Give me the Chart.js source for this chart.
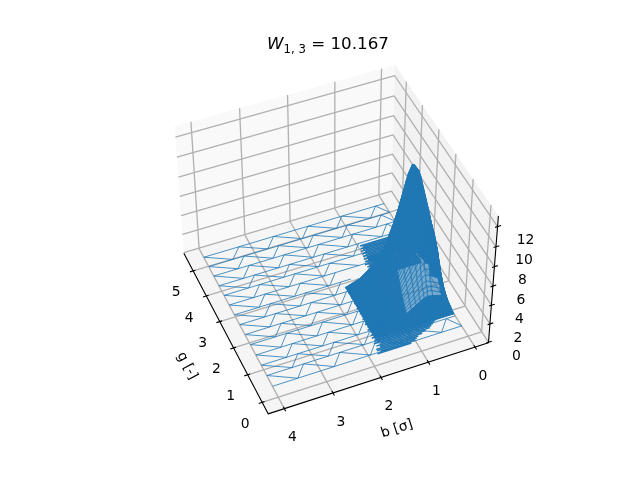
<!DOCTYPE html>
<html>
<head>
<meta charset="utf-8">
<style>body{margin:0;background:#fff}canvas{display:block}</style>
<script src="https://cdn.jsdelivr.net/npm/chart.js@4/dist/chart.umd.js"></script>
</head>
<body>
<canvas id="c" width="640" height="480"></canvas>
<script>
const gTicks = [0, 1, 2, 3, 4, 5];
const bTicks = [0, 1, 2, 3, 4];
const zTicks = [0, 2, 4, 6, 8, 10, 12];
const gLim = [-0.41, 5.72];
const bLim = [-0.29, 4.33];
const zLim = [-0.05, 13.05];

// coarse part of the mesh: straight rows plus saw teeth between rows
const rowG = [5.35, 4.97, 4.59, 4.2, 3.82, 3.44, 3.06, 2.68, 2.3, 1.92, 1.53, 1.15, 0.77, 0.38];
const rowEndB = [0, 0, 0, 0, 0.9, 1, 1.5, 1.5, 1.5, 1.5, 1.5, 1.5, 0, 0];
const toothUpperB = [4, 3.24, 2.48, 1.72, 0.96, 0.2];
const toothLowerB = [3.48, 2.72, 1.96, 1.2, 0.44, 0];

// dense part of the mesh, flat rows
const denseG = [0.35, 0.4, 0.45, 0.5, 0.55, 0.6, 0.65, 0.7, 0.75, 0.8, 0.85, 0.9, 0.95, 1, 1.05, 1.1, 1.15, 1.2, 1.25, 1.3, 1.35, 1.4, 1.45,
  1.5, 1.55, 1.6, 1.65, 1.7, 1.75, 1.8, 1.85, 1.9, 1.95, 2, 2.05, 2.1, 2.15, 2.2, 2.25, 2.3, 2.35, 2.4, 2.45,
  2.5, 2.55, 2.6, 2.65, 2.7, 2.75, 2.8, 2.85, 2.9, 2.95, 3, 3.05, 3.1, 3.15, 3.2, 3.25, 3.3, 3.35, 3.4, 3.45,
  3.5, 3.55, 3.6, 3.65, 3.7, 3.75, 3.8, 3.85, 3.9, 3.95, 4, 4.05, 4.1];
const denseFromB = [1.1, 1, 0.95, 0.9, 0.8, 0.7, 0.6, 0.55, 0.5, 0.45, 0.4, 0.4, 0.4, 1, 1, 1, 1, 1, 1, 1, 1, 1, 1,
  1, 1, 1, 1, 1, 1, 1, 1, 1, 1, 1, 1, 1, 1, 1, 1, 1, 1, 1, 1,
  1, 1, 1, 1, 1, 1, 1, 1, 0, 0, 0, 0, 0, 0, 0, 0, 0, 0, 0, 0,
  0, 0, 0, 0, 0, 0, 0, 0, 0, 0, 0, 0, 0];
const denseToB = [1.82, 1.74, 1.8, 1.8, 1.7, 1.76, 1.66, 1.78, 1.7, 1.74, 1.64, 1.76, 1.68, 1.75, 1.66, 1.72, 1.64, 1.75, 1.67, 1.72, 1.62, 1.74, 1.66,
  1.71, 1.62, 1.73, 1.65, 1.7, 1.6, 1.72, 1.64, 1.7, 1.6, 1.72, 1.63, 1.69, 1.6, 1.71, 1.62, 1.68, 1.6, 1.7, 1.62,
  1.67, 1.58, 1.7, 1.6, 1.68, 1.6, 1.7, 1.62, 1.1, 1.02, 1.08, 1, 1.1, 1.02, 1.08, 1, 1.06, 1, 1.08, 1,
  1.05, 0.97, 1.04, 0.96, 1.02, 0.95, 1, 0.93, 1, 0.94, 0.98, 0.92, 0.96];
const denseColB = [0, 0.1, 0.2, 0.3, 0.4, 0.5, 0.6, 0.7, 0.8, 0.9, 1, 1.1, 1.2, 1.3, 1.4, 1.5, 1.6, 1.7];

// the bump
const bumpB = [0, 0.05, 0.11, 0.2, 0.4, 0.5, 0.58, 0.66, 0.75, 0.85, 0.95, 1.2, 1.4, 1.7];
const bumpG = [0.85, 0.92, 1, 1.05, 1.1, 1.15, 1.2, 1.25, 1.3, 1.35, 1.4, 1.45, 1.5, 1.55, 1.6, 1.65, 1.7, 1.75, 1.8, 1.85, 1.9,
  2, 2.1, 2.2, 2.3, 2.4, 2.6, 2.8, 3, 3.2, 3.4, 3.6];
const bumpZ = [
  [0, 0, 0, 0, 0, 0, 0, 0, 0, 0, 0, 0, 0, 0],
  [0, 0.2, 0.4, 0.6, 0.7, 0.7, 0.7, 0.6, 0.5, 0.4, 0.3, 0.1, 0, 0],
  [0.1, 0.4, 0.8, 1.1, 1.4, 1.4, 1.3, 1.2, 1, 0.8, 0.6, 0.3, 0.1, 0],
  [0.2, 0.5, 0.9, 1.3, 1.6, 1.7, 1.6, 1.4, 1.2, 0.9, 0.7, 0.4, 0.2, 0],
  [0.2, 0.6, 1.1, 1.6, 1.9, 2, 1.9, 1.7, 1.4, 1.1, 0.8, 0.4, 0.2, 0],
  [0.2, 0.7, 1.3, 1.8, 2.3, 2.4, 2.2, 1.9, 1.6, 1.3, 1, 0.5, 0.2, 0],
  [0.3, 0.8, 1.5, 2.1, 2.6, 2.8, 2.6, 2.3, 1.9, 1.5, 1.1, 0.6, 0.2, 0],
  [0.3, 1, 1.7, 2.5, 3, 3.2, 3, 2.6, 2.2, 1.7, 1.3, 0.7, 0.3, 0],
  [0.4, 1.1, 2, 2.9, 3.5, 3.7, 3.5, 3, 2.5, 2, 1.5, 0.8, 0.3, 0],
  [0.4, 1.3, 2.3, 3.2, 4, 4.2, 3.9, 3.4, 2.8, 2.3, 1.7, 0.9, 0.4, 0],
  [0.5, 1.4, 2.6, 3.7, 4.5, 4.7, 4.4, 3.9, 3.2, 2.5, 1.9, 1, 0.4, 0],
  [0.5, 1.6, 2.9, 4.1, 5, 5.3, 5, 4.3, 3.6, 2.9, 2.2, 1.1, 0.5, 0],
  [0.6, 1.8, 3.2, 4.6, 5.6, 5.9, 5.5, 4.8, 4, 3.2, 2.4, 1.3, 0.5, 0],
  [0.6, 2, 3.6, 5.1, 6.2, 6.5, 6.1, 5.3, 4.4, 3.5, 2.7, 1.4, 0.6, 0.1],
  [0.7, 2.2, 3.9, 5.6, 6.8, 7.1, 6.7, 5.9, 4.9, 3.9, 2.9, 1.5, 0.6, 0.1],
  [0.8, 2.4, 4.3, 6.1, 7.4, 7.8, 7.3, 6.4, 5.3, 4.2, 3.2, 1.7, 0.7, 0.1],
  [0.8, 2.5, 4.6, 6.5, 8, 8.4, 7.9, 6.9, 5.7, 4.5, 3.4, 1.8, 0.8, 0.1],
  [0.9, 2.6, 4.8, 6.7, 8.5, 9, 8.5, 7.4, 6.1, 4.9, 3.7, 1.9, 0.8, 0.1],
  [0.9, 2.6, 4.6, 6.8, 9, 9.6, 9.1, 7.9, 6.5, 5.2, 3.9, 2, 0.9, 0.1],
  [1, 2.8, 4.8, 7, 9.6, 10.2, 9.6, 8.3, 6.9, 5.5, 4.2, 2.2, 0.9, 0.1],
  [1.1, 2.8, 4.9, 7.2, 10.1, 10.8, 10.1, 8.8, 7.3, 5.8, 4.4, 2.3, 1, 0.1],
  [1.1, 2.9, 5.2, 7.6, 11, 11.8, 11, 9.4, 7.8, 6.2, 4.7, 2.4, 1, 0.1],
  [1.2, 3, 5.4, 8, 11.7, 12.4, 11.6, 9.9, 8.2, 6.5, 4.9, 2.6, 1.1, 0.1],
  [1.2, 3.1, 5.5, 8.1, 11.9, 12.6, 11.8, 10, 8.3, 6.6, 5, 2.6, 1.1, 0.1],
  [1.2, 3, 5.4, 8, 11.7, 12.4, 11.6, 9.9, 8.2, 6.5, 4.9, 2.6, 1.1, 0.1],
  [1.1, 2.9, 5.1, 7.4, 10.6, 11.3, 10.7, 9.3, 7.7, 6.1, 4.7, 2.4, 1, 0.1],
  [0.9, 2.7, 5, 7, 8.6, 9, 8.5, 7.4, 6.1, 4.9, 3.7, 1.9, 0.8, 0.1],
  [0.6, 1.9, 3.4, 4.8, 5.8, 6.1, 5.8, 5, 4.2, 3.3, 2.5, 1.3, 0.6, 0.1],
  [0.3, 1.1, 1.9, 2.8, 3.4, 3.5, 3.3, 2.9, 2.4, 1.9, 1.5, 0.8, 0.3, 0],
  [0.2, 0.5, 0.9, 1.2, 1.5, 1.6, 1.5, 1.3, 1.1, 0.9, 0.7, 0.3, 0.1, 0],
  [0.1, 0.2, 0.3, 0.5, 0.6, 0.6, 0.6, 0.5, 0.4, 0.3, 0.3, 0.1, 0.1, 0],
  [0, 0, 0, 0, 0, 0, 0, 0, 0, 0, 0, 0, 0, 0]
];
// per strip of the bump: columns up to this one and from the next one read as solid
const bumpSolidTo = [13, 13, 13, 13, 3, 3, 3, 3, 4, 4, 5, 5, 6, 6, 7, 7, 7, 7, 8, 8, 9,
  13, 13, 13, 13, 13, 13, 10, 10, 10, 10];
const bumpSolidFrom = [13, 13, 13, 13, 10, 10, 10, 10, 10, 10, 10, 10, 10, 10, 10, 10, 10, 10, 10, 10, 10,
  13, 13, 13, 13, 13, 13, 13, 13, 13, 13];

const BLUE = "#1f77b4";
const SPECKLE = "rgba(31,119,180,0.6)";
const font = "DejaVu Sans";

// camera, same idea as a mplot3d view
const elev = 45 * Math.PI / 180;
const azim = 157 * Math.PI / 180;
const box = [1.143, 1.143, 0.857];
const dist = 10;
const pxPerUnit = 2093;
const originX = 333;
const originY = 235.5;

function project(g, b, z) {
    const p = [
        (g - gLim[0]) / (gLim[1] - gLim[0]) * box[0] - box[0] / 2,
        (b - bLim[0]) / (bLim[1] - bLim[0]) * box[1] - box[1] / 2,
        (z - zLim[0]) / (zLim[1] - zLim[0]) * box[2] - box[2] / 2
    ];
    const se = Math.sin(elev), ce = Math.cos(elev), sa = Math.sin(azim), ca = Math.cos(azim);
    const rx = -sa * p[0] + ca * p[1];
    const uy = -se * ca * p[0] - se * sa * p[1] + ce * p[2];
    const d = ce * ca * p[0] + ce * sa * p[1] + se * p[2];
    return { x: rx / (dist - d), y: uy / (dist - d) };
}

const datasets = [];
function add(points, opts) {
    datasets.push(Object.assign({
        data: points,
        showLine: true,
        pointRadius: 0,
        borderWidth: 1,
        borderColor: BLUE,
        borderJoinStyle: "round",
        order: -datasets.length
    }, opts));
}
function pane(points, color) {
    add(points, { fill: "shape", backgroundColor: color, borderWidth: 0, borderColor: "transparent" });
}
const gridLine = { borderColor: "#b0b0b0", borderWidth: 1.3 };
const axisLine = { borderColor: "#000", borderWidth: 1.1 };

/* panes */
pane([project(gLim[0], bLim[0], zLim[0]), project(gLim[0], bLim[1], zLim[0]), project(gLim[1], bLim[1], zLim[0]), project(gLim[1], bLim[0], zLim[0])], "#f5f5f5");
pane([project(gLim[1], bLim[0], zLim[0]), project(gLim[1], bLim[1], zLim[0]), project(gLim[1], bLim[1], zLim[1]), project(gLim[1], bLim[0], zLim[1])], "#f9f9f9");
pane([project(gLim[0], bLim[0], zLim[0]), project(gLim[1], bLim[0], zLim[0]), project(gLim[1], bLim[0], zLim[1]), project(gLim[0], bLim[0], zLim[1])], "#f2f2f2");

/* grid */
gTicks.forEach(g => add([project(g, bLim[1], zLim[0]), project(g, bLim[0], zLim[0]), project(g, bLim[0], zLim[1])], gridLine));
bTicks.forEach(b => add([project(gLim[0], b, zLim[0]), project(gLim[1], b, zLim[0]), project(gLim[1], b, zLim[1])], gridLine));
zTicks.forEach(z => add([project(gLim[1], bLim[1], z), project(gLim[1], bLim[0], z), project(gLim[0], bLim[0], z)], gridLine));

/* axis lines and tick marks */
add([project(gLim[1], bLim[1], zLim[0]), project(gLim[0], bLim[1], zLim[0]), project(gLim[0], bLim[0], zLim[0]), project(gLim[0], bLim[0], zLim[1])], axisLine);
gTicks.forEach(g => add([project(g, bLim[1] - 0.05, zLim[0]), project(g, bLim[1] + 0.07, zLim[0])], axisLine));
bTicks.forEach(b => add([project(gLim[0] + 0.07, b, zLim[0]), project(gLim[0] - 0.09, b, zLim[0])], axisLine));
zTicks.forEach(z => add([project(gLim[0], bLim[0] + 0.05, z), project(gLim[0], bLim[0] - 0.07, z)], axisLine));

/* coarse mesh */
const thin = { borderWidth: 0.8 };
rowG.forEach((g, i) => {
    add([project(g, 4, 0), project(g, rowEndB[i], 0)], thin);
    if (i + 1 < rowG.length) {
        const end = Math.max(rowEndB[i], rowEndB[i + 1]);
        const saw = [];
        toothUpperB.forEach((b, k) => {
            if (b >= end) saw.push(project(g, b, 0));
            if (toothLowerB[k] >= end) saw.push(project(rowG[i + 1], toothLowerB[k], 0));
        });
        add(saw, thin);
    }
});

/* dense flat block */
denseG.forEach((g, i) => {
    add([project(g, denseFromB[i], 0), project(g, denseToB[i], 0)], { borderWidth: 1.5 });
    if (i + 1 < denseG.length) {
        const saw = [];
        denseColB.forEach((b, k) => {
            if (b < denseFromB[i] || b > denseToB[i]) return;
            saw.push(project(k % 2 ? denseG[i + 1] : g, b, 0));
        });
        if (saw.length > 1) add(saw, { borderWidth: 0.7 });
    }
});

/* bump: wires plus solid strips where the wires pile up */
function bumpStrip(i, from, to, color) {
    const strip = [];
    for (let k = from; k <= to; k++) strip.push(project(bumpG[i], bumpB[k], bumpZ[i][k]));
    for (let k = to; k >= from; k--) strip.push(project(bumpG[i + 1], bumpB[k], bumpZ[i + 1][k]));
    add(strip, { fill: "shape", backgroundColor: color, borderWidth: color === BLUE ? 0.7 : 0 });
}
bumpG.forEach((g, i) => {
    // past g = 2.8 the far columns stop, the flat block is narrower there
    const cols = g > 2.8 ? 11 : bumpB.length;
    add(bumpB.slice(0, cols).map((b, k) => project(g, b, bumpZ[i][k])), { borderWidth: 0.9 });
    if (i + 1 < bumpG.length) {
        bumpStrip(i, 0, bumpSolidTo[i], BLUE);
        if (bumpSolidFrom[i] < 13) {
            bumpStrip(i, bumpSolidTo[i], bumpSolidFrom[i], SPECKLE);
            bumpStrip(i, bumpSolidFrom[i], 13, BLUE);
        }
    }
});
bumpB.forEach((b, k) => {
    const rows = k > 10 ? bumpG.filter(g => g <= 2.8) : bumpG;
    add(rows.map((g, i) => project(g, b, bumpZ[i][k])), { borderWidth: 0.9 });
});

/* text */
const textPlugin = {
    id: "text3d",
    afterDraw(chart) {
        const { ctx, scales } = chart;
        const px = p => [scales.x.getPixelForValue(p.x), scales.y.getPixelForValue(p.y)];
        ctx.save();
        ctx.fillStyle = "#000";
        ctx.textAlign = "center";
        ctx.textBaseline = "middle";
        ctx.font = `13.9px "${font}"`;
        gTicks.forEach(g => {
            const [x, y] = px(project(g, bLim[1], zLim[0]));
            ctx.fillText(String(g), x - 17, y + 22);
        });
        bTicks.forEach(b => {
            const [x, y] = px(project(gLim[0], b, zLim[0]));
            ctx.fillText(String(b), x + 8, y + 29);
        });
        zTicks.forEach(z => {
            const [x, y] = px(project(gLim[0], bLim[0], z));
            ctx.fillText(String(z), x + 28, y + 14);
        });

        ctx.save();
        ctx.translate(187, 366);
        ctx.rotate(62 * Math.PI / 180);
        ctx.fillText("g [-]", 0, 0);
        ctx.restore();

        ctx.save();
        ctx.translate(397, 429);
        ctx.rotate(-18 * Math.PI / 180);
        ctx.fillText("b [σ]", 0, 0);
        ctx.restore();

        // title with math style subscript
        const pieces = [
            ["W", `italic 16.7px "${font}"`, 0],
            ["1, 3", `11.7px "${font}"`, 4],
            [" = 10.167", `16.7px "${font}"`, 0]
        ];
        let w = 0;
        pieces.forEach(t => { ctx.font = t[1]; w += ctx.measureText(t[0]).width; });
        let x = 328 - w / 2;
        ctx.textAlign = "left";
        ctx.textBaseline = "alphabetic";
        pieces.forEach(t => {
            ctx.font = t[1];
            ctx.fillText(t[0], x, 49 + t[2]);
            x += ctx.measureText(t[0]).width;
        });
        ctx.restore();
    }
};

new Chart(document.getElementById("c"), {
    type: "scatter",
    data: { datasets },
    plugins: [textPlugin],
    options: {
        responsive: false,
        animation: false,
        layout: { padding: 0 },
        plugins: { legend: { display: false }, tooltip: { enabled: false } },
        scales: {
            x: { type: "linear", display: false, min: -originX / pxPerUnit, max: (640 - originX) / pxPerUnit },
            y: { type: "linear", display: false, min: (originY - 480) / pxPerUnit, max: originY / pxPerUnit }
        }
    }
});
</script>
</body>
</html>
